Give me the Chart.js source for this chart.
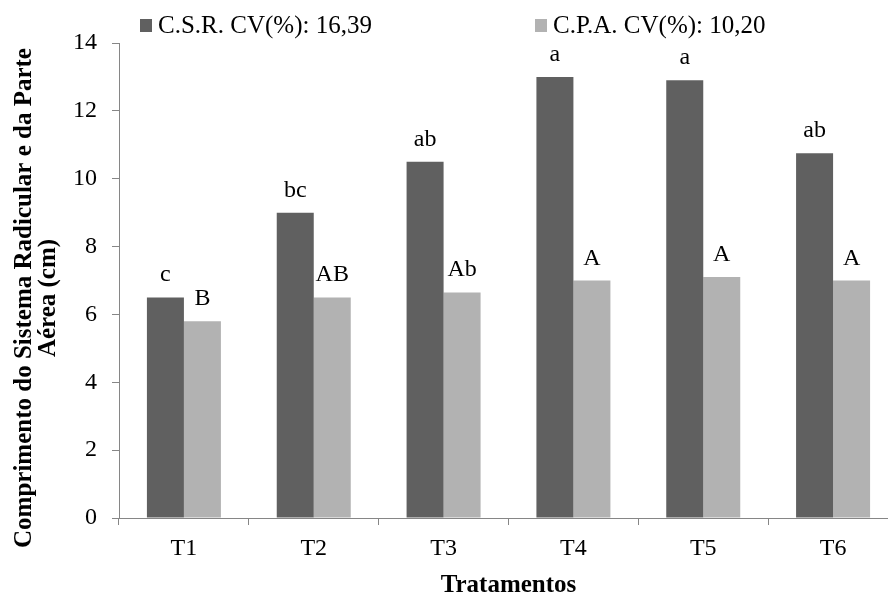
<!DOCTYPE html>
<html>
<head>
<meta charset="utf-8">
<script src="https://cdn.jsdelivr.net/npm/chart.js@4"></script>
<style>
  body { margin: 0; background: #fff; overflow: hidden; }
  #wrap { width: 900px; height: 596px; }
</style>
</head>
<body>
<div id="wrap"><canvas id="chart" width="900" height="596"></canvas></div>
<script>
// data
const tratamentos = ["T1", "T2", "T3", "T4", "T5", "T6"];
const csr = [6.5, 9.0, 10.5, 13.0, 12.9, 10.75];
const cpa = [5.8, 6.5, 6.65, 7.0, 7.1, 7.0];
const letrasCSR = ["c", "bc", "ab", "a", "a", "ab"];
const letrasCPA = ["B", "AB", "Ab", "A", "A", "A"];
const yTicks = [0, 2, 4, 6, 8, 10, 12, 14];
const yTitle = ["Comprimento do Sistema Radicular e da Parte", "Aérea (cm)"];

const serif = '"Liberation Serif", "Times New Roman", serif';
const axisGray = "#868686";

// letters above each bar, legend and y title drawn by hand
const labelsPlugin = {
  id: "letras",
  afterDatasetsDraw(chart) {
    const ctx = chart.ctx;
    ctx.save();
    ctx.fillStyle = "#000";
    ctx.font = "24px " + serif;
    ctx.textAlign = "center";
    ctx.textBaseline = "alphabetic";
    [letrasCSR, letrasCPA].forEach((letras, di) => {
      chart.getDatasetMeta(di).data.forEach((bar, i) => {
        ctx.fillText(letras[i], bar.x, bar.y - 16);
      });
    });

    // legend
    const legendX = [140, 535];
    ctx.font = "25px " + serif;
    ctx.textAlign = "left";
    chart.data.datasets.forEach((ds, i) => {
      ctx.fillStyle = ds.backgroundColor;
      ctx.fillRect(legendX[i], 19, 12, 13);
      ctx.fillStyle = "#000";
      ctx.fillText(ds.label, legendX[i] + 18, 33);
    });

    // y axis title (two lines, rotated)
    ctx.font = "bold 25px " + serif;
    ctx.textAlign = "center";
    ctx.textBaseline = "middle";
    ctx.translate(0, 298);
    ctx.rotate(-Math.PI / 2);
    yTitle.forEach((line, i) => ctx.fillText(line, 0, 25 + i * 24));
    ctx.restore();
  }
};

new Chart(document.getElementById("chart"), {
  type: "bar",
  data: {
    labels: tratamentos,
    datasets: [
      { label: "C.S.R. CV(%): 16,39", data: csr, backgroundColor: "#606060" },
      { label: "C.P.A. CV(%): 10,20", data: cpa, backgroundColor: "#b2b2b2" }
    ]
  },
  options: {
    responsive: false,
    animation: false,
    devicePixelRatio: 1,
    layout: { padding: { top: 43, right: 2, left: 0, bottom: 0 } },
    datasets: { bar: { categoryPercentage: 0.57, barPercentage: 1.0 } },
    plugins: {
      legend: { display: false },
      tooltip: { enabled: false }
    },
    scales: {
      x: {
        grid: { drawOnChartArea: false, tickLength: 7, color: axisGray },
        border: { color: axisGray, width: 1 },
        ticks: { color: "#000", font: { family: serif, size: 24 }, padding: 9 },
        title: {
          display: true,
          text: "Tratamentos",
          color: "#000",
          font: { family: serif, size: 25, weight: "bold", lineHeight: 0.8 },
          padding: { top: 0, bottom: 0 }
        },
        afterFit(scale) { scale.height = 78; }
      },
      y: {
        min: 0,
        max: 14,
        afterBuildTicks(scale) { scale.ticks = yTicks.map(v => ({ value: v })); },
        grid: { drawOnChartArea: false, tickLength: 7, color: axisGray },
        border: { color: axisGray, width: 1 },
        ticks: { color: "#000", font: { family: serif, size: 24 }, padding: 15 },
        afterFit(scale) { scale.width = 119; }
      }
    }
  },
  plugins: [labelsPlugin]
});
</script>
</body>
</html>
